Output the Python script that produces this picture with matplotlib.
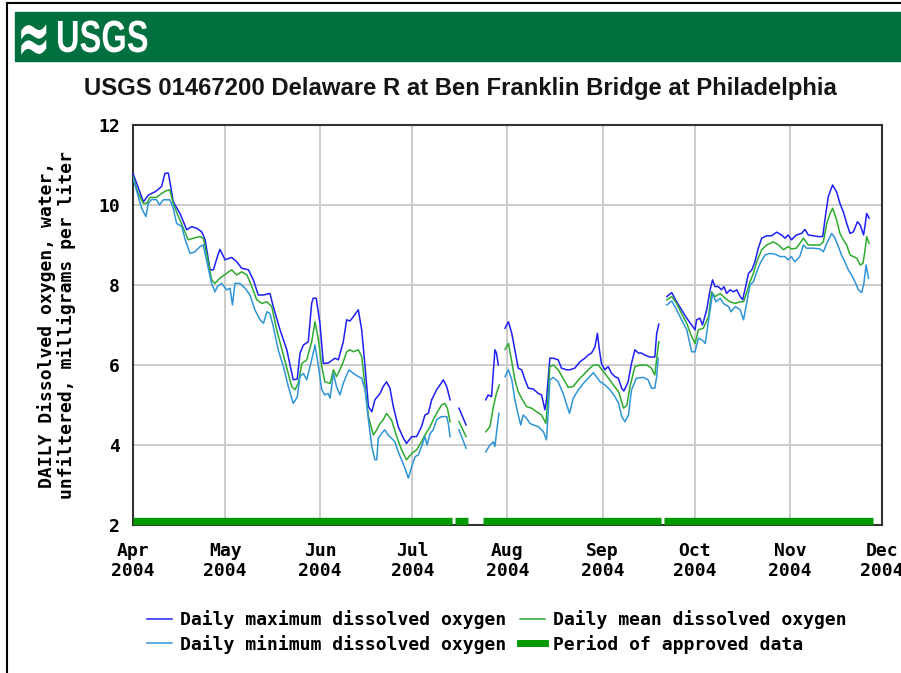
import numpy as np
import matplotlib
matplotlib.use('Agg')
import matplotlib.pyplot as plt
import matplotlib.dates as mdates
from matplotlib.lines import Line2D
from matplotlib.patches import Rectangle, PathPatch
from matplotlib.textpath import TextPath
from matplotlib.font_manager import FontProperties
from matplotlib.transforms import Affine2D, IdentityTransform

nan = np.nan
start = '2004-04-01'
end = '2004-12-01'

# days since Apr 1 2004; nan marks a gap in the record
max_days = [0, 3.4, 5, 7.2, 9.3, 10.4, 11.5, 12.3, 13.1, 15.3, 17.5, 19.1, 20.7, 22.4, 23.5,
            25.1, 26.2, 27.5, 28.3, 30, 32.1, 33.8, 35.4, 37.6, 39.2, 40.8, 42.5, 44.6, 45.7,
            47.9, 50.1, 52.2, 53.5, 54.4, 55.5, 57.1, 58.2, 58.7, 59.7, 60.9, 62, 63.6, 65.8,
            66.9, 68.5, 69.6, 70.7, 71.8, 73.4, 74.5, 75.6, 76.7, 77.8, 78.8, 80.5, 81.5, 82.6,
            83.7, 84.8, 86.4, 88.1, 89.1, 90.8, 92.4, 94, 95.1, 96.2, 97.3, 98.9, 100, 101.1,
            102.2, 103.3, 104.5, 106.2, 108.5, 111, 114.9, 115.7, 116.8, 117.9, 118.4, 119,
            120, 121.2, 122.3, 123.4, 124.4, 125.5, 126.6, 127.7, 128.8, 130.4, 132, 133.1,
            134.2, 134.7, 135.8, 136.9, 138.5, 139.6, 141.3, 142.3, 143.9, 145.6, 147.2, 148.3,
            149.4, 150.5, 151.3, 151.9, 152.6, 153.7, 154.8, 155.9, 157, 158.1, 159.2, 159.9,
            161.3, 162.4, 163.5, 164.6, 165.6, 166.7, 168.3, 170, 170.6, 171.3, 172.5, 173.9,
            175.5, 177.1, 178.7, 180.4, 182, 183.1, 183.6, 184.7, 185.5, 186.9, 188, 188.8,
            189.6, 190.7, 191.7, 192.5, 193.4, 194.5, 195.6, 196.7, 197.8, 198.6, 199.7, 200.5,
            201.6, 202.6, 203.7, 204.8, 206.4, 208, 209.7, 211.3, 212.4, 213.4, 214.5, 216.1,
            217.8, 218.9, 220, 221.6, 223.3, 224.7, 225.4, 226.5, 227.9, 229.2, 230.3, 231.4,
            232.5, 233.6, 234.7, 236, 236.9, 238, 238.5, 239, 239.8]
max_vals = [10.79, 10.08, 10.25, 10.33, 10.46, 10.79, 10.80, 10.46, 10.08, 9.79, 9.38, 9.46, 9.42,
            9.33, 9.13, 8.38, 8.38, 8.71, 8.89, 8.63, 8.69, 8.58, 8.42, 8.38, 8.13, 7.75, 7.75,
            7.79, 7.46, 6.88, 6.38, 5.63, 5.65, 6.29, 6.50, 6.58, 7.54, 7.67, 7.67, 7.04, 6.04,
            6.05, 6.17, 6.13, 6.58, 7.13, 7.10, 7.21, 7.38, 6.88, 5.96, 4.96, 4.83, 5.13, 5.29,
            5.46, 5.58, 5.42, 4.96, 4.46, 4.17, 4.04, 4.21, 4.21, 4.46, 4.75, 4.79, 5.13, 5.38,
            5.50, 5.63, 5.46, 5.13, nan, 4.92, 4.50, nan, 5.13, 5.25, 5.21, 6.38, 6.30, 6.00,
            nan, 6.92, 7.08, 6.79, 6.38, 5.92, 5.88, 5.63, 5.42, 5.40, 5.29, 5.25, 4.88, 5.13,
            6.17, 6.17, 6.13, 5.92, 5.88, 5.88, 5.92, 6.08, 6.17, 6.25, 6.30, 6.46, 6.79, 6.40,
            6.04, 5.88, 5.96, 5.79, 5.71, 5.67, 5.42, 5.35, 5.58, 6.04, 6.38, 6.30, 6.30, 6.25,
            6.20, 6.20, 6.79, 7.02, nan, 7.71, 7.81, 7.58, 7.38, 7.17, 7.00, 6.88, 7.13, 7.17,
            7.00, 7.38, 7.88, 8.13, 7.96, 7.96, 7.88, 7.96, 7.79, 7.88, 7.83, 7.88, 7.71, 7.63,
            8.00, 8.29, 8.38, 8.58, 8.92, 9.17, 9.23, 9.23, 9.32, 9.25, 9.17, 9.25, 9.13, 9.25,
            9.29, 9.39, 9.25, 9.23, 9.21, 9.21, 9.63, 10.21, 10.50, 10.33, 10.04, 9.83, 9.54,
            9.29, 9.33, 9.58, 9.50, 9.25, 9.50, 9.79, 9.67]

mean_days = [0, 1.7, 3.4, 4.5, 5.5, 7.7, 9.3, 10.9, 12, 13.1, 14.8, 16.4, 18, 19.7, 21.8, 22.9,
             24.2, 25.6, 26.7, 28.3, 30.5, 32.1, 33.8, 35.4, 37.1, 38.7, 40.3, 42, 43.6, 45.2,
             46.8, 48.4, 50.1, 51.7, 52.8, 53.9, 55, 56.6, 58.2, 59.3, 60.4, 61.5, 62.5, 64.2,
             65.3, 66.3, 67.4, 68.5, 69.6, 70.7, 71.8, 73.4, 74.5, 75.6, 76.7, 78.3, 79.4, 80.5,
             81.5, 82.6, 84.2, 85.9, 87.5, 89.1, 90.8, 92.4, 94, 95.1, 96.8, 97.8, 98.9, 100.5,
             101.6, 102.4, 103.3, 104.5, 106.2, 108.5, 111, 114.9, 116.3, 117.4, 118.4, 119.3,
             120, 121.2, 122.3, 123.4, 124.4, 125.5, 126.6, 128.2, 129.9, 131.5, 133.1, 134.5,
             135.3, 135.8, 136.9, 138.5, 140.1, 141.8, 143.4, 145.1, 146.7, 148.3, 150, 151.6,
             153.3, 154.9, 156.5, 158.2, 159.8, 160.9, 161.9, 163.5, 165.1, 167.3, 168.9, 170,
             170.8, 171.3, 172.5, 173.9, 175.5, 177.1, 178.7, 180.4, 182, 183.1, 184.2, 185.8,
             187.5, 188.5, 189.6, 191.3, 192.9, 194.5, 196.2, 197.8, 198.9, 200, 201, 202.1,
             203.2, 204.8, 206.4, 208.6, 210.3, 211.9, 213.4, 214.5, 216.1, 218.4, 220, 221.6,
             223.8, 224.9, 226, 227.1, 227.9, 229.2, 230.3, 231.4, 232.5, 233.6, 234.7, 235.8,
             236.9, 237.8, 238.5, 239, 239.8]
mean_vals = [10.71, 10.29, 10.04, 10.04, 10.19, 10.19, 10.29, 10.36, 10.38, 10.04, 9.71, 9.42,
             9.13, 9.17, 9.21, 9.17, 8.71, 8.13, 8.04, 8.17, 8.29, 8.38, 8.25, 8.33, 8.25, 7.96,
             7.63, 7.54, 7.58, 7.46, 6.88, 6.42, 5.92, 5.46, 5.38, 5.56, 6.04, 6.13, 6.58, 7.08,
             6.63, 5.96, 5.58, 5.54, 5.88, 5.71, 5.88, 6.08, 6.33, 6.38, 6.33, 6.38, 6.21, 5.46,
             4.71, 4.25, 4.38, 4.54, 4.63, 4.79, 4.63, 4.21, 3.88, 3.63, 3.79, 3.88, 4.08, 4.25,
             4.46, 4.63, 4.79, 5.00, 5.04, 4.92, 4.58, nan, 4.58, 4.21, nan, 4.33, 4.46, 4.96,
             5.29, 5.50, nan, 6.39, 6.54, 6.08, 5.63, 5.33, 5.17, 4.96, 4.92, 4.83, 4.75, 4.54,
             5.29, 5.96, 6.00, 5.88, 5.67, 5.44, 5.46, 5.63, 5.75, 5.88, 6.00, 6.00, 5.83, 5.67,
             5.50, 5.33, 4.92, 5.00, 5.46, 5.96, 6.00, 6.00, 5.92, 5.75, 6.29, 6.58, nan, 7.63,
             7.71, 7.54, 7.29, 7.04, 6.71, 6.54, 6.88, 6.92, 7.21, 7.83, 7.71, 7.79, 7.67, 7.58,
             7.54, 7.58, 7.58, 7.83, 8.08, 8.29, 8.58, 8.88, 9.00, 9.08, 9.00, 8.88, 8.96, 8.90,
             8.92, 9.17, 9.00, 9.00, 9.00, 9.08, 9.54, 9.79, 9.92, 9.63, 9.29, 9.13, 9.00, 8.75,
             8.71, 8.67, 8.50, 8.54, 8.88, 9.21, 9.04]

min_days = [0, 1.7, 2.8, 4.2, 5, 6.1, 7.7, 8.6, 9.9, 12, 13.1, 14.2, 15.9, 17, 18.6, 20.2, 21.8,
            22.9, 24.2, 25.6, 26.7, 27.5, 28.9, 30.5, 31.6, 32.4, 33.2, 34.8, 36.5, 38.1, 39.7,
            41.4, 42.5, 43.6, 44.6, 45.7, 47.3, 49, 50.6, 52.2, 53.5, 54.4, 55.5, 56.6, 58.2,
            59.3, 60.4, 61.5, 62.5, 63.6, 64.2, 65.3, 66.3, 67.4, 68.5, 69.6, 70.4, 71.8, 73.4,
            74.5, 75.6, 76.7, 77.8, 78.8, 79.4, 79.9, 81, 82, 83.1, 84.2, 85.3, 86.4, 87.5, 88.6,
            89.7, 90.8, 91.9, 92.9, 94, 95.1, 95.8, 96.8, 97.8, 98.9, 100.5, 102.2, 102.7, 103.3,
            104.5, 106.2, 108.5, 111, 114.9, 116.3, 117.4, 117.9, 118.4, 119.2, 120, 121.2,
            122.3, 123.4, 124.4, 125.5, 126.3, 127.1, 128.2, 129.3, 130.4, 132, 133.7, 134.7,
            135.3, 135.8, 136.9, 138.5, 140.1, 141.5, 142.2, 143.4, 145.1, 146.7, 148.3, 150,
            151.1, 152.2, 153.8, 155.4, 157, 158.2, 159.2, 160.3, 161.4, 162.4, 164, 166.2,
            167.8, 168.9, 170, 170.6, 171.1, 172.5, 173.9, 175.5, 177.1, 178.7, 180.4, 182,
            183.1, 184.2, 185.3, 186.4, 187.7, 188.8, 189.9, 191.3, 192.3, 194, 194.8, 196.2,
            197.8, 198.9, 200, 201, 202.1, 203.2, 204.3, 205.9, 207.5, 209.2, 210.8, 212.4,
            213.4, 214.5, 215.6, 217.2, 218.4, 219.4, 221.6, 223.8, 224.9, 226, 227.6, 228.7,
            229.8, 230.8, 231.9, 233, 234.1, 235.2, 236.3, 237.4, 238.1, 238.8, 239.6]
min_vals = [10.67, 10.21, 9.92, 9.71, 10.04, 10.14, 10.13, 10.00, 10.13, 10.13, 9.92, 9.54, 9.46,
            9.13, 8.79, 8.83, 8.96, 9.00, 8.54, 8.04, 7.83, 7.96, 8.04, 7.88, 7.92, 7.50, 8.04,
            8.04, 7.92, 7.75, 7.38, 7.13, 7.04, 7.33, 7.29, 6.96, 6.38, 5.96, 5.46, 5.04, 5.20,
            5.71, 5.79, 5.63, 6.13, 6.50, 5.96, 5.38, 5.25, 5.29, 5.17, 5.79, 5.46, 5.25, 5.54,
            5.75, 5.88, 5.79, 5.71, 5.67, 5.38, 4.63, 3.96, 3.63, 3.63, 4.17, 4.29, 4.38, 4.25,
            4.17, 4.08, 3.83, 3.63, 3.42, 3.17, 3.46, 3.71, 3.75, 3.96, 4.21, 4.00, 4.29, 4.38,
            4.63, 4.71, 4.71, 4.54, 4.21, nan, 4.38, 3.92, nan, 3.83, 4.00, 4.08, 3.96, 4.29,
            4.79, nan, 5.71, 5.88, 5.63, 5.13, 4.75, 4.50, 4.75, 4.67, 4.54, 4.50, 4.46, 4.33,
            4.13, 4.88, 5.63, 5.69, 5.58, 5.29, 4.96, 4.79, 5.17, 5.38, 5.54, 5.67, 5.81, 5.69,
            5.58, 5.50, 5.38, 5.21, 5.04, 4.71, 4.58, 4.75, 5.38, 5.67, 5.69, 5.63, 5.42, 5.42,
            5.71, 6.17, nan, 7.50, 7.60, 7.38, 7.13, 6.88, 6.33, 6.33, 6.67, 6.63, 6.54, 7.21,
            7.79, 7.58, 7.67, 7.54, 7.46, 7.33, 7.46, 7.38, 7.13, 7.58, 8.00, 8.08, 8.33, 8.54,
            8.75, 8.79, 8.77, 8.71, 8.71, 8.63, 8.71, 8.58, 8.71, 9.00, 8.92, 8.92, 8.90, 8.83,
            9.04, 9.29, 9.17, 8.96, 8.75, 8.58, 8.38, 8.25, 8.08, 7.88, 7.81, 8.04, 8.50, 8.17]

approved_start = ['2004-04-01', '2004-07-15', '2004-07-24', '2004-09-21']
approved_end = ['2004-07-14', '2004-07-19', '2004-09-20', '2004-11-28']

yticks = [2, 4, 6, 8, 10, 12]
title = 'USGS 01467200 Delaware R at Ben Franklin Bridge at Philadelphia'
ylabel = 'DAILY Dissolved oxygen, water,\nunfiltered, milligrams per liter'
labels = ['Daily maximum dissolved oxygen', 'Daily minimum dissolved oxygen',
          'Daily mean dissolved oxygen', 'Period of approved data']

c_max = '#1f1ff5'
c_mean = '#2eaa2e'
c_min = '#2f95d8'
c_appr = '#009a00'
mono = 'DejaVu Sans Mono'
fs = 13

fig = plt.figure(figsize=(9.01, 6.73), dpi=100)
W, H = 901., 673.

# page frame and USGS banner
fig.add_artist(Line2D([7 / W, 7 / W], [0, 1 - 3 / H], color='black', lw=1.5, transform=fig.transFigure))
fig.add_artist(Line2D([7 / W, 1], [1 - 3 / H, 1 - 3 / H], color='black', lw=1.5, transform=fig.transFigure))
fig.add_artist(Rectangle((15 / W, 1 - 61 / H), 1 - 15 / W, 49 / H, color='#00703f',
                         transform=fig.transFigure, zorder=0))


def logo_text(s, x, y, size, sx, sy, family):
    # stretched white text in pixel coordinates (y from the top)
    tp = TextPath((0, 0), s, size=size, prop=FontProperties(family=family, weight='bold'))
    tr = Affine2D().scale(sx, sy).translate(x, H - y)
    fig.add_artist(PathPatch(tr.transform_path(tp), color='white', lw=0,
                             transform=IdentityTransform()))


logo_text('\u2248', 17, 63, 50, 0.8, 1.5, 'DejaVu Sans')
logo_text('USGS', 56, 52, 46, 0.71, 0.98, 'Liberation Sans')

fig.text(460 / W, 1 - 88 / H, title, fontsize=17.2, ha='center', va='center',
         family='Liberation Sans', fontweight='bold', color='#151515')

ax = fig.add_axes([133 / W, 1 - 525 / H, 749 / W, 400 / H])

t0 = mdates.datestr2num(start)
for days, vals, col in [(max_days, max_vals, c_max), (mean_days, mean_vals, c_mean),
                        (min_days, min_vals, c_min)]:
    ax.plot(t0 + np.array(days), np.array(vals), color=col, lw=1.1, zorder=3)

for s, e in zip(approved_start, approved_end):
    ax.plot([mdates.datestr2num(s), mdates.datestr2num(e)], [2.09, 2.09], color=c_appr,
            lw=5.3, solid_capstyle='butt', zorder=4, clip_on=False)

ax.set_xlim(mdates.datestr2num(start), mdates.datestr2num(end))
ax.set_ylim(2, 12)
ax.set_yticks(yticks)
ax.xaxis.set_major_locator(mdates.MonthLocator())
ax.xaxis.set_major_formatter(mdates.DateFormatter('%b\n%Y'))
ax.grid(True, color='#cccccc', lw=1.4)
ax.set_axisbelow(True)
ax.tick_params(length=0, labelsize=fs)
ax.tick_params(axis='x', pad=12)
ax.tick_params(axis='y', pad=9.5)
for lab in ax.get_xticklabels() + ax.get_yticklabels():
    lab.set_family(mono)
    lab.set_fontweight('bold')
for sp in ax.spines.values():
    sp.set_color('#333333')
    sp.set_linewidth(1.5)
ax.set_ylabel(ylabel, family=mono, fontweight='bold', fontsize=fs, labelpad=16,
              linespacing=1.05)

handles = [Line2D([], [], color=c_max, lw=1.1), Line2D([], [], color=c_min, lw=1.1),
           Line2D([], [], color=c_mean, lw=1.1), Line2D([], [], color=c_appr, lw=5)]
fig.legend(handles, labels, ncol=2, loc='center', bbox_to_anchor=(497 / W, 1 - 632 / H),
           frameon=False, prop={'family': mono, 'weight': 'bold', 'size': fs},
           handlelength=1.4, handletextpad=0.45, columnspacing=0.75, labelspacing=0.3)

fig.savefig('out.png', dpi=100, facecolor='white')
